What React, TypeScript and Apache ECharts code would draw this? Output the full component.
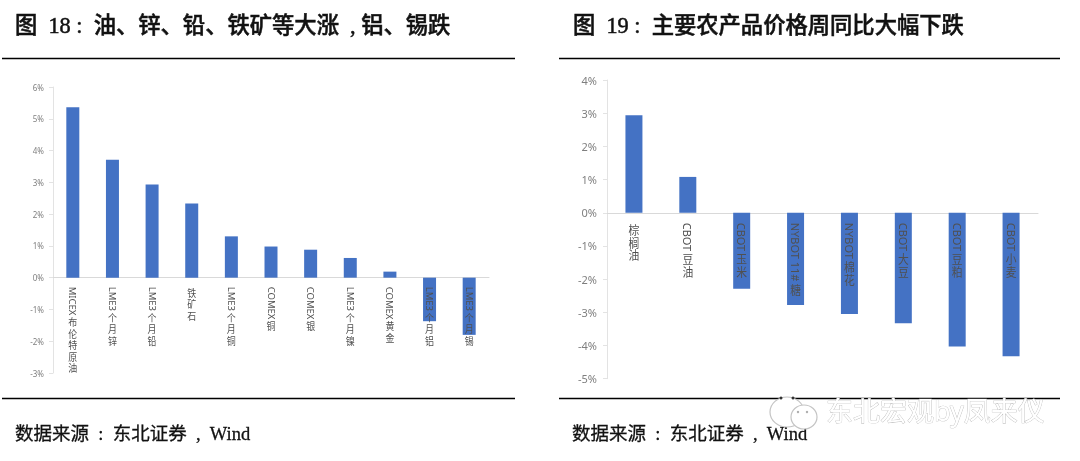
import React, { useEffect, useRef } from "react";
import * as echarts from "echarts";

const titleLeft = "图\u00a0\u00a018\u00a0:\u00a0\u00a0油、锌、铅、铁矿等大涨\u00a0\u00a0,\u00a0铝、锡跌";
const titleRight = "图\u00a0\u00a019\u00a0:\u00a0\u00a0主要农产品价格周同比大幅下跌";
const sourceText = "数据来源\u00a0\u00a0:\u00a0\u00a0东北证券\u00a0\u00a0,\u00a0\u00a0Wind";
const watermarkText = "东北宏观by凤来仪";

const metalCategories = ["MICEX布伦特原油", "LME3个月锌", "LME3个月铅", "铁矿石", "LME3个月铜", "COMEX铜", "COMEX银", "LME3个月镍", "COMEX黄金", "LME3个月铝", "LME3个月锡"];
const metalValues = [5.36, 3.71, 2.93, 2.33, 1.3, 0.98, 0.88, 0.62, 0.19, -1.37, -1.8];

const farmCategories = ["棕榈油", "CBOT豆油", "CBOT玉米", "NYBOT 11#糖", "NYBOT棉花", "CBOT大豆", "CBOT豆粕", "CBOT小麦"];
const farmValues = [2.94, 1.08, -2.29, -2.78, -3.05, -3.33, -4.03, -4.32];

const serif = '"Liberation Serif","Noto Sans CJK SC"';
const sans = '"Noto Sans","Noto Sans CJK SC"';
const cjkPattern = /[\u4e00-\u9fff]+|[^\u4e00-\u9fff]+/g;

const measure = (text: string, fontSize: number) => {
  const ctx = document.createElement("canvas").getContext("2d")!;
  ctx.font = `${fontSize}px "Noto Sans"`;
  return ctx.measureText(text).width;
};

function labelSeries(cats: string[], idx: number, latin: number, cjk: number, line: number, gap: number, offset: number, squeeze: number) {
  return {
    type: "custom",
    xAxisIndex: idx,
    yAxisIndex: idx,
    silent: true,
    clip: false,
    z: 5,
    data: cats.map((_, i) => [i, 0]),
    encode: { x: 0, y: 1 },
    renderItem: (_p: any, api: any) => {
      const i = api.value(0);
      const [cx, y0] = api.coord([i, 0]);
      let y = y0 + offset;
      const children: any[] = [];
      for (const run of cats[i].match(cjkPattern) || []) {
        if (/[\u4e00-\u9fff]/.test(run)) {
          children.push({
            type: "text",
            x: cx,
            y,
            scaleX: squeeze,
            style: { text: run.split("").join("\n"), fontFamily: '"Noto Sans CJK SC"', fontSize: cjk, lineHeight: line, align: "center", verticalAlign: "top", fill: "#505050" },
          });
          y += run.length * line;
        } else {
          children.push({
            type: "text",
            x: cx,
            y,
            rotation: -Math.PI / 2,
            style: { text: run, fontFamily: sans, fontSize: latin, align: "left", verticalAlign: "middle", fill: "#505050" },
          });
          y += measure(run, latin) + gap;
        }
      }
      return { type: "group", children };
    },
  };
}

const yAxis = (gridIndex: number, min: number, max: number, size: number, margin: number) => ({
  type: "value",
  gridIndex,
  min,
  max,
  interval: 1,
  axisLine: { show: true, lineStyle: { color: "#e3e3e3" } },
  axisTick: { show: true, length: 4, lineStyle: { color: "#e3e3e3" } },
  splitLine: { show: false },
  axisLabel: { formatter: "{value}%", color: "#7f7f7f", fontSize: size, fontFamily: sans, margin },
});

const xAxis = (gridIndex: number, data: string[]) => ({
  type: "category",
  gridIndex,
  data,
  axisLine: { show: true, lineStyle: { color: "#d9d9d9" } },
  axisTick: { show: false },
  axisLabel: { show: false },
});

const rule = (x1: number, x2: number, y: number) => ({
  type: "line",
  shape: { x1, y1: y, x2, y2: y },
  style: { stroke: "#000", lineWidth: 1.4 },
});

const footer = (x: number) => ({
  type: "text",
  x,
  y: 433.5,
  style: { text: sourceText, fontFamily: serif, fontSize: 18.5, fill: "#111", stroke: "#111", lineWidth: 0.3, verticalAlign: "middle" },
});

const bubble = (cx: number, cy: number, rx: number, ry: number) => ({
  type: "ellipse",
  shape: { cx, cy, rx, ry },
  style: { fill: "#fff", stroke: "#c4c4c4", lineWidth: 1.2 },
  z: 10,
});

const dot = (cx: number, cy: number, r: number, fill: string) => ({
  type: "circle",
  shape: { cx, cy, r },
  style: { fill },
  z: 11,
});

const titleStyle = { fontFamily: serif, fontSize: 22.3, fontWeight: 500, color: "#111", textBorderColor: "#111", textBorderWidth: 0.5 };

export default function App() {
  const ref = useRef<HTMLDivElement>(null);
  useEffect(() => {
    document.body.style.margin = "0";
    const chart = echarts.init(ref.current!, null, { renderer: "svg" });
    chart.setOption({
      animation: false,
      backgroundColor: "#fff",
      title: [
        { text: titleLeft, left: 15, top: 14, textStyle: titleStyle, padding: 0 },
        { text: titleRight, left: 573, top: 14, textStyle: titleStyle, padding: 0 },
      ],
      grid: [
        { left: 53, width: 436, top: 87, height: 286 },
        { left: 607, width: 431, top: 80, height: 298.7 },
      ],
      xAxis: [xAxis(0, metalCategories), xAxis(1, farmCategories)],
      yAxis: [yAxis(0, -3, 6, 8, 9), yAxis(1, -5, 4, 11, 10)],
      series: [
        { type: "bar", xAxisIndex: 0, yAxisIndex: 0, data: metalValues, barWidth: 13, itemStyle: { color: "#4472C4" } },
        { type: "bar", xAxisIndex: 1, yAxisIndex: 1, data: farmValues, barWidth: 17, itemStyle: { color: "#4472C4" } },
        labelSeries(metalCategories, 0, 9.5, 10, 11.5, 1, 9, 0.9),
        labelSeries(farmCategories, 1, 11, 12, 13, 1.5, 10, 0.9),
      ],
      graphic: [
        rule(2, 515, 58.5),
        rule(2, 515, 398.5),
        rule(559, 1060, 58.5),
        rule(559, 1060, 398.5),
        footer(15),
        footer(572),
        bubble(787, 412, 17, 15),
        bubble(804, 417, 13, 12),
        dot(781, 398, 1.5, "#333"),
        dot(793, 398, 1.5, "#333"),
        dot(798, 412, 1.2, "#aaa"),
        dot(807, 412, 1.2, "#aaa"),
        {
          type: "text",
          x: 826,
          y: 410,
          z: 10,
          style: { text: watermarkText, fontFamily: sans, fontSize: 27, fill: "#fff", stroke: "#b5b5b5", lineWidth: 0.7, verticalAlign: "middle" },
        },
      ],
    });
    return () => chart.dispose();
  }, []);
  return <div ref={ref} style={{ width: 1080, height: 461, filter: "blur(0.35px)" }} />;
}
